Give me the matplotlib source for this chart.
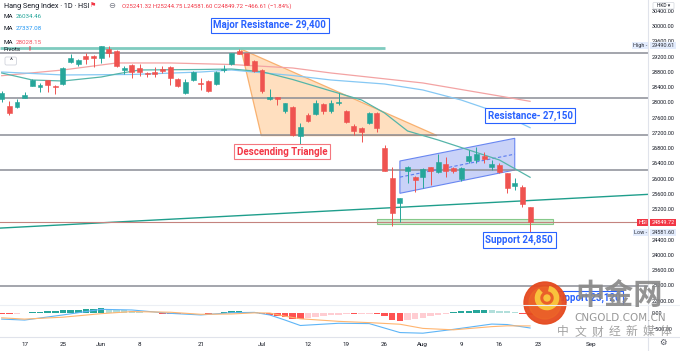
import numpy as np
import matplotlib.pyplot as plt
from matplotlib.patches import Polygon, Rectangle, Circle, Arc, FancyBboxPatch

plt.rcParams['font.family'] = ['Roboto', 'DejaVu Sans']

# Hang Seng Index, daily candles 12 May - 20 Aug 2021
opens = [28082, 27914, 27872, 28124, 28439, 28413, 28580, 28440, 28476, 29053,
         29000, 29226, 29226, 29158, 29394, 29350, 28851, 28982, 28895, 28772,
         28798, 28869, 28938, 28607, 28239, 28588, 28518, 28570, 28483, 28850,
         29008, 29357, 29289, 29095, 28851, 28098, 28134, 27775, 27888, 27126,
         27670, 27696, 27959, 27783, 27977, 27775, 27389, 27336, 27467, 27730,
         26812, 26024, 25368, 26208, 26050, 26050, 26297, 26166, 26384, 26271,
         25990, 26462, 26489, 26602, 26313, 26350, 26139, 25806, 25788, 25241.32]
highs = [28300, 28045, 28090, 28282, 28620, 28518, 28600, 28450, 28930, 29271,
         29140, 29289, 29240, 29490.61, 29480, 29380, 28956, 29000, 29008, 28806,
         28938, 28964, 28960, 28633, 28607, 28830, 28633, 28600, 28830, 28982,
         29300, 29394, 29300, 29110, 28870, 28344, 28150, 27990, 27900, 27452,
         27730, 28063, 27977, 28063, 28239, 27800, 27420, 27363, 27760, 27750,
         26882, 26313, 25500, 26330, 26070, 26270, 26310, 26646, 26575, 26300,
         26300, 26751, 26838, 26707, 26488, 26400, 26160, 26008, 25832, 25244.75]
lows = [28000, 27680, 27850, 28108, 28420, 28282, 28282, 28213, 28450, 29040,
        28950, 29008, 28938, 29027, 29200, 28938, 28746, 28633, 28693, 28675,
        28675, 28764, 28457, 28413, 28221, 28560, 28326, 28280, 28460, 28806,
        28990, 29260, 28970, 28800, 28240, 28063, 27932, 27714, 27130, 26882,
        27494, 27670, 27696, 27714, 27932, 27450, 27142, 26969, 27440, 27231,
        26190, 24756, 24869, 25877, 25656, 25746, 25832, 26140, 26050, 26150,
        25940, 26401, 26401, 26401, 26226, 26150, 25630, 25701, 25262, 24581.60]
closes = [28239, 27714, 28019, 28195, 28588, 28450, 28465, 28412, 28911, 29158,
          29113, 29132, 29158, 29468, 29289, 28966, 28911, 28791, 28791, 28738,
          28746, 28833, 28649, 28439, 28544, 28798, 28483, 28300, 28806, 28876,
          29289, 29271, 28982, 28825, 28308, 28134, 28082, 27977, 27145, 27347,
          27520, 27977, 27783, 27993, 28019, 27494, 27258, 27231, 27730, 27320,
          26208, 25090, 25483, 26313, 25964, 26252, 26208, 26428, 26208, 26200,
          26287, 26602, 26638, 26507, 26391, 26182, 25761, 25877, 25326, 24849.72]

tick_pos = [3, 8, 13, 18, 26, 34, 40, 45, 50, 55, 60, 65, 70, 77]
tick_labels = ["17", "25", "Jun", "8", "21", "Jul", "12", "19", "26", "Aug", "9", "16", "23", "Sep"]

# moving averages
ma20_idx = [0, 4, 8, 13, 15, 18, 26, 30, 34, 38, 43, 47, 50, 53, 57, 61, 65, 69]
ma20_val = [28772, 28588, 28562, 28667, 28746, 28851, 28864, 28877, 28806, 28601,
            28300, 28063, 27722, 27250, 27013, 26751, 26488, 26034.46]
ma50_idx = [0, 8, 17, 26, 30, 38, 43, 50, 55, 60, 65, 69]
ma50_val = [28798, 28720, 28733, 28798, 28851, 28706, 28588, 28483, 28326, 28063, 27722, 27337.08]
ma100_idx = [0, 8, 15, 22, 30, 38, 43, 55, 65, 69]
ma100_val = [28701, 28851, 29035, 29035, 28995, 28903, 28772, 28510, 28168, 28028.15]

# MACD pane
hist = [-40, -50, -35, -20, 10, 30, 40, 40, 70, 90,
        100, 105, 110, 135, 120, 90, 70, 50, 10, -10,
        -20, -25, -35, -45, -30, -20, -20, -35, -20, 10,
        40, 50, 35, 15, -40, -60, -90, -120, -190, -210,
        -180, -130, -110, -80, -60, -50, -55, -50, -30, -40,
        -110, -220, -260, -230, -190, -150, -100, -60, -25, 15,
        40, 65, 85, 95, 80, 60, 40, 15, -30, -63.81]
macd_idx = [0, 3, 8, 13, 17, 22, 26, 30, 33, 35, 37, 39, 44, 48, 52, 55, 59, 64, 66, 69]
macd_val = [-200, -230, -70, 105, 85, -20, -70, 0, 10, -70, -230, -400, -330, -340,
            -620, -640, -520, -355, -370, -476.84]
signal_val = [-160, -200, -140, -30, 35, 15, -50, -40, -5, -10, -110, -190, -270, -310,
              -360, -490, -535, -435, -410, -413.03]

# drawings
pivots = [29289, 28108, 27145, 26218, 23181]
major_res = 29415
major_res_end = 50
trend_idx = [0, 69]
trend_val = [24703, 25425]
tri_idx = [31.25, 33.9, 56.85]
tri_val = [29400, 27130, 27130]
chan_idx = [52, 67, 67, 52]
chan_val = [26462, 27058, 26226, 25614]
chan_mid_idx = [52, 67]
chan_mid_val = [26038, 26642]
sup_idx = [49, 72]
sup_val = [24800, 24940]
price_ticks = list(range(22800, 30401, 400))

UP = '#26a69a'
DOWN = '#ef5350'
BLUE = '#2962ff'
RED = '#f23645'

W, H = 680, 351
RIGHT, PRICE_B, MACD_B = 648, 305, 337
XLIM = (-0.22, 84.4)

fig = plt.figure(figsize=(W / 100, H / 100), dpi=100)
fig.patch.set_facecolor('white')
ax = fig.add_axes([0, 1 - PRICE_B / H, RIGHT / W, PRICE_B / H])
axm = fig.add_axes([0, 1 - MACD_B / H, RIGHT / W, (MACD_B - PRICE_B) / H])

for a in (ax, axm):
    for s in a.spines.values():
        s.set_visible(False)
    a.set_xlim(*XLIM)
    a.yaxis.tick_right()
    a.tick_params(axis='y', length=0, pad=3, labelsize=4, labelcolor='#131722')
    a.tick_params(axis='x', length=0)

ax.set_ylim(22682, 30688)
ax.set_xticks([])
ax.set_yticks(price_ticks)
ax.set_yticklabels([f'{v:.2f}' for v in price_ticks])

# pivots and levels
for p in pivots:
    ax.axhline(p, color='#8a8d96', lw=1.1, zorder=2)
ax.hlines(major_res, XLIM[0], major_res_end, color='#7fcbbf', lw=2, zorder=2)
ax.axline((trend_idx[0], trend_val[0]), (trend_idx[1], trend_val[1]), color='#1f9e8c', lw=1, zorder=3)
ax.axhline(closes[-1], color='#c4837f', lw=0.8, zorder=3)

# shapes
ax.add_patch(Polygon(list(zip(tri_idx, tri_val)), closed=True, fc='#ffd8b0', ec='#f7a255',
                     lw=0.9, alpha=0.8, zorder=1))
ax.add_patch(Polygon(list(zip(chan_idx, chan_val)), closed=True, fc='#c3cdf8', ec='#5b7cf0',
                     lw=0.8, alpha=0.9, zorder=1))
ax.plot(chan_mid_idx, chan_mid_val, color='#5b7cf0', lw=0.8, ls=(0, (3, 2)), zorder=2)
ax.add_patch(Rectangle((sup_idx[0], sup_val[0]), sup_idx[1] - sup_idx[0], sup_val[1] - sup_val[0],
                       fc='#cfeacf', ec='#86c98a', lw=0.8, zorder=2))

# moving averages
ax.plot(ma100_idx, ma100_val, color='#f3a3a3', lw=0.9, zorder=3)
ax.plot(ma50_idx, ma50_val, color='#86c8f4', lw=0.9, zorder=3)
ax.plot(ma20_idx, ma20_val, color='#55b5a9', lw=0.9, zorder=3)

# candles
idx = np.arange(len(closes))
o, h, l, c = map(np.array, (opens, highs, lows, closes))
col = np.where(c >= o, UP, DOWN)
ax.vlines(idx, l, h, colors=col, lw=0.7, zorder=4)
ax.bar(idx, np.abs(c - o), bottom=np.minimum(o, c), width=0.64, color=col,
       edgecolor=col, lw=0.4, zorder=5)


def note(x, y, s, color, ec):
    ax.text(x, y, s, color=color, fontsize=7, fontweight='bold', ha='center', va='center',
            zorder=9, bbox=dict(boxstyle='square,pad=0.25', fc='white', ec=ec, lw=0.8))


note(35.0, 30024, 'Major Resistance- 29,400', BLUE, BLUE)
note(69.0, 27656, 'Resistance- 27,150', BLUE, BLUE)
note(36.6, 26706, 'Descending Triangle', RED, '#f4777f')
note(67.6, 24388, 'Support 24,850', BLUE, BLUE)
note(76.4, 22858, 'Support 23,120', BLUE, BLUE)

# axis tags
yt = ax.get_yaxis_transform()
for val, name in ((highs[13], 'High'), (lows[-1], 'Low')):
    ax.text(0.9985, val, name + ' -', transform=yt, ha='right', va='center', fontsize=4,
            color='#2a2e39', zorder=10, bbox=dict(boxstyle='square,pad=0.2', fc='#e3ecfd', ec='none'))
    ax.text(1.0055, val, f'{val:.2f}', transform=yt, ha='left', va='center', fontsize=4,
            color='#2a2e39', clip_on=False, zorder=10,
            bbox=dict(boxstyle='square,pad=0.2', fc='#e3ecfd', ec='none'))
ax.text(0.9985, closes[-1], 'HSI', transform=yt, ha='right', va='center', fontsize=4,
        color='white', zorder=10, bbox=dict(boxstyle='square,pad=0.2', fc=RED, ec='none'))
ax.text(1.0055, closes[-1], f'{closes[-1]:.2f}', transform=yt, ha='left', va='center', fontsize=4,
        color='white', clip_on=False, zorder=10, bbox=dict(boxstyle='square,pad=0.25', fc=RED, ec='none'))

# MACD
axm.set_ylim(-759, 240.6)
hcol = []
for i, v in enumerate(hist):
    prev = hist[i - 1] if i else v
    if v >= 0:
        hcol.append('#26a69a' if v >= prev else '#b2dfdb')
    else:
        hcol.append('#ffcdd2' if v > prev else '#ff5252')
axm.bar(idx, hist, width=0.85, color=hcol, zorder=2)
axm.plot(macd_idx, macd_val, color='#5eb5f7', lw=0.8, zorder=3)
axm.plot(macd_idx, signal_val, color='#ffb570', lw=0.8, zorder=3)
axm.set_yticks([0, -500])
axm.set_yticklabels(['0.00', '\u2212500.00'])
axm.set_xticks(tick_pos)
axm.set_xticklabels(tick_labels)
axm.tick_params(axis='x', labelsize=4.5, pad=3.5, labelcolor='#131722')

# overlay in pixel coordinates: legend, frame lines, watermark
ov = fig.add_axes([0, 0, 1, 1])
ov.set_xlim(0, W)
ov.set_ylim(H, 0)
ov.axis('off')
ov.plot([RIGHT, RIGHT], [0, H], color='#e0e3eb', lw=0.8)
ov.plot([0, W], [PRICE_B, PRICE_B], color='#eceff4', lw=0.8)
ov.plot([0, W], [MACD_B, MACD_B], color='#e0e3eb', lw=0.8)

ov.text(4, 6, 'Hang Seng Index \u00b7 1D \u00b7 HSI', fontsize=5.2, color='#131722', va='center')
ov.text(90, 6, '\u2691', fontsize=5, color=RED, va='center')
ov.text(108, 6, '\u2296', fontsize=6, color='#787b86', va='center')
ov.text(122, 6, 'O25241.32 H25244.75 L24581.60 C24849.72 \u2212466.61 (\u22121.84%)',
        fontsize=4.3, color=RED, va='center')
ma_legend = [('26034.46', '#26a69a', 16), ('27337.08', '#2196f3', 29), ('28028.15', '#f7525f', 42)]
for val, cc, yy in ma_legend:
    ov.text(4, yy, 'MA', fontsize=4.5, color='#131722', va='center')
    ov.text(16, yy, val, fontsize=4.5, color=cc, va='center')
ov.text(4, 49.3, 'Pivots', fontsize=4.5, color='#131722', va='center')
ov.text(29, 49.3, '!', fontsize=5, color=RED, va='center', fontweight='bold')
ov.add_patch(FancyBboxPatch((5, 57), 11.5, 8, boxstyle='round,pad=0,rounding_size=1.5',
                            fc='white', ec='#d1d4dc', lw=0.6))
ov.text(10.8, 62, '^', fontsize=5, color='#131722', ha='center', va='center')
ov.add_patch(FancyBboxPatch((653, 2.5), 21, 6.5, boxstyle='round,pad=0,rounding_size=1',
                            fc='white', ec='#d1d4dc', lw=0.5))
ov.text(663.5, 5.9, 'HKD \u25be', fontsize=3.5, color='#131722', ha='center', va='center')
ov.text(663, 343, '\u2699', fontsize=6, color='#50535e', ha='center', va='center')

# watermark
ov.add_patch(Circle((545, 303), 21, color='#e54a1f', alpha=0.95))
ov.add_patch(Circle((545, 303), 16, color='#ee6a28', alpha=0.6))
ov.add_patch(Arc((547, 298), 19, 19, theta1=-80, theta2=230, lw=4, color='#f9c23c'))
ov.add_patch(Circle((547, 298), 3, color='#f9c23c'))
ov.text(619, 295, '中金网', fontsize=21, fontweight='bold', color='#8a8a8a', alpha=0.92,
        ha='center', va='center', family=['Noto Sans CJK SC', 'DejaVu Sans'])
ov.text(620, 318, 'CNGOLD.COM.CN', fontsize=7.5, color='#8f8f8f', alpha=0.92,
        ha='center', va='center', family='DejaVu Sans')
for k, ch in enumerate('中文财经新媒体'):
    ov.text(563 + k * 17.1, 332, ch, fontsize=8.5, color='#9a9a9a', alpha=0.92,
            ha='center', va='center', family=['Noto Sans CJK SC', 'DejaVu Sans'])

fig.savefig('out.png', dpi=100)
